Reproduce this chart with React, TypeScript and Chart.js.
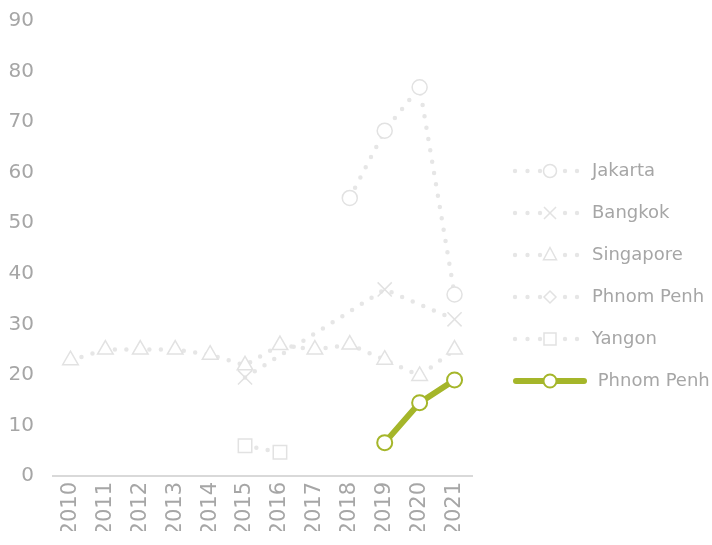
import React, { useEffect, useRef } from 'react';
import { Chart, registerables } from 'chart.js';

Chart.register(...registerables);

const years = ['2010', '2011', '2012', '2013', '2014', '2015', '2016', '2017', '2018', '2019', '2020', '2021'];
const jakarta = [null, null, null, null, null, null, null, null, 55, 68.3, 76.9, 35.9];
const bangkok = [null, null, null, null, null, 19.5, null, null, null, 36.9, null, 31];
const singapore = [22.9, 25, 25, 25, 24, 21.9, 25.9, 25, 26, 23, 19.8, 25];
const phnomPenhBase = [null, null, null, null, null, null, null, null, null, 6.6, 14.5, 19];
const yangon = [null, null, null, null, null, 6, 4.7, null, null, null, null, null];
const phnomPenh = [null, null, null, null, null, null, null, null, null, 6.6, 14.5, 19];
const seriesNames = ['Jakarta', 'Bangkok', 'Singapore', 'Phnom Penh', 'Yangon', ' Phnom Penh'];
const yMin = 0;
const yMax = 90;
const yStep = 10;

const GREEN = '#a5b62a';
const FAINT_LINE = '#e6e6e6';
const FAINT_MARK = '#e2e2e2';
const TEXT = '#a6a6a6';
const FONT = "'DejaVu Sans', sans-serif";

type Shape = 'circle' | 'cross' | 'triangle' | 'diamond' | 'square';

function drawShape(ctx: CanvasRenderingContext2D, shape: Shape, x: number, y: number, r: number) {
  ctx.beginPath();
  if (shape === 'circle') {
    ctx.arc(x, y, r, 0, Math.PI * 2);
  } else if (shape === 'cross') {
    const s = r * Math.SQRT1_2;
    ctx.moveTo(x - s, y - s);
    ctx.lineTo(x + s, y + s);
    ctx.moveTo(x + s, y - s);
    ctx.lineTo(x - s, y + s);
  } else if (shape === 'triangle') {
    ctx.moveTo(x, y - r);
    ctx.lineTo(x + r * 0.866, y + r * 0.5 + 1);
    ctx.lineTo(x - r * 0.866, y + r * 0.5 + 1);
    ctx.closePath();
  } else if (shape === 'diamond') {
    ctx.moveTo(x, y - r);
    ctx.lineTo(x + r, y);
    ctx.lineTo(x, y + r);
    ctx.lineTo(x - r, y);
    ctx.closePath();
  } else {
    const s = r * Math.SQRT1_2;
    ctx.rect(x - s, y - s, 2 * s, 2 * s);
  }
  if (shape !== 'cross') {
    ctx.fillStyle = '#ffffff';
    ctx.fill();
  }
  ctx.stroke();
}

function legendImage(shape: Shape, highlight: boolean): HTMLCanvasElement {
  const c = document.createElement('canvas');
  const w = highlight ? 95 : 87;
  c.width = w;
  c.height = 22;
  const ctx = c.getContext('2d') as CanvasRenderingContext2D;
  const cy = 11;
  if (highlight) {
    ctx.strokeStyle = GREEN;
    ctx.lineWidth = 6;
    ctx.lineCap = 'round';
    ctx.beginPath();
    ctx.moveTo(24, cy);
    ctx.lineTo(92, cy);
    ctx.stroke();
    ctx.lineWidth = 2;
    ctx.strokeStyle = GREEN;
    drawShape(ctx, 'circle', 58, cy, 6.5);
  } else {
    ctx.fillStyle = FAINT_LINE;
    [19, 31.5, 44, 69, 81].forEach((dx) => {
      ctx.beginPath();
      ctx.arc(dx, cy, 2.2, 0, Math.PI * 2);
      ctx.fill();
    });
    ctx.strokeStyle = FAINT_MARK;
    ctx.lineWidth = 1.5;
    const r = shape === 'circle' ? 6.5 : shape === 'cross' ? 8.5 : shape === 'triangle' ? 7.5 : shape === 'diamond' ? 6 : 8.5;
    drawShape(ctx, shape, 54, cy, r);
  }
  return c;
}

export default function App() {
  const ref = useRef<HTMLCanvasElement | null>(null);

  useEffect(() => {
    if (!ref.current) return;
    Chart.defaults.font.family = FONT;
    const faint = {
      borderColor: FAINT_LINE,
      borderWidth: 4.5,
      borderDash: [0, 11.5],
      borderCapStyle: 'round' as const,
      pointBackgroundColor: '#ffffff',
      pointBorderColor: FAINT_MARK,
      pointBorderWidth: 1.5,
      spanGaps: true,
      tension: 0,
      order: 1,
    };
    const shapes: Shape[] = ['circle', 'cross', 'triangle', 'diamond', 'square', 'circle'];
    const images = shapes.map((s, i) => legendImage(s, i === 5));

    const chart = new Chart(ref.current, {
      type: 'line',
      data: {
        labels: years,
        datasets: [
          { ...faint, label: seriesNames[0], data: jakarta, pointStyle: 'circle', pointRadius: 7.5 },
          { ...faint, label: seriesNames[1], data: bangkok, pointStyle: 'crossRot', pointRadius: 10 },
          { ...faint, label: seriesNames[2], data: singapore, pointStyle: 'triangle', pointRadius: 9 },
          { ...faint, label: seriesNames[3], data: phnomPenhBase, pointStyle: 'rectRot', pointRadius: 6 },
          { ...faint, label: seriesNames[4], data: yangon, pointStyle: 'rect', pointRadius: 9.5 },
          {
            label: seriesNames[5],
            data: phnomPenh,
            borderColor: GREEN,
            borderWidth: 6,
            borderCapStyle: 'round',
            pointStyle: 'circle',
            pointRadius: 7.5,
            pointBackgroundColor: '#ffffff',
            pointBorderColor: GREEN,
            pointBorderWidth: 2,
            tension: 0,
            order: 0,
          },
        ],
      },
      options: {
        responsive: false,
        animation: false,
        events: [],
        layout: { padding: { left: 9, top: 21, right: 0, bottom: 14 } },
        plugins: {
          tooltip: { enabled: false },
          legend: {
            display: true,
            position: 'right',
            maxWidth: 240,
            labels: {
              usePointStyle: true,
              pointStyleWidth: 87,
              padding: 24,
              color: TEXT,
              font: { size: 18, family: FONT },
              sort: (a: any, b: any) => a.datasetIndex - b.datasetIndex,
              generateLabels: (c: any) => {
                const items = Chart.defaults.plugins.legend.labels.generateLabels(c);
                return items.map((it: any) => ({ ...it, pointStyle: images[it.datasetIndex], fontColor: TEXT }));
              },
            },
          },
        },
        scales: {
          x: {
            offset: true,
            grid: { display: false, drawTicks: false },
            border: { display: true, color: '#d9d9d9', width: 2 },
            ticks: {
              color: TEXT,
              font: { size: 21, family: FONT },
              minRotation: 90,
              maxRotation: 90,
              padding: 6,
              autoSkip: false,
            },
            afterFit: (s: any) => {
              s.height = 55;
              s.paddingLeft = 0;
              s.paddingRight = 0;
            },
          },
          y: {
            min: yMin,
            max: yMax,
            grid: { display: false, drawTicks: false },
            border: { display: false },
            ticks: {
              stepSize: yStep,
              color: TEXT,
              font: { size: 20, family: FONT },
              padding: 19,
            },
            afterFit: (s: any) => {
              s.width = 44;
              s.paddingTop = 10;
              s.paddingBottom = 10;
            },
          },
        },
      },
    });
    return () => chart.destroy();
  }, []);

  return (
    <div style={{ position: 'absolute', left: 0, top: 0, width: 712, height: 545, background: '#ffffff' }}>
      <canvas ref={ref} width={712} height={545} style={{ display: 'block' }} />
    </div>
  );
}
